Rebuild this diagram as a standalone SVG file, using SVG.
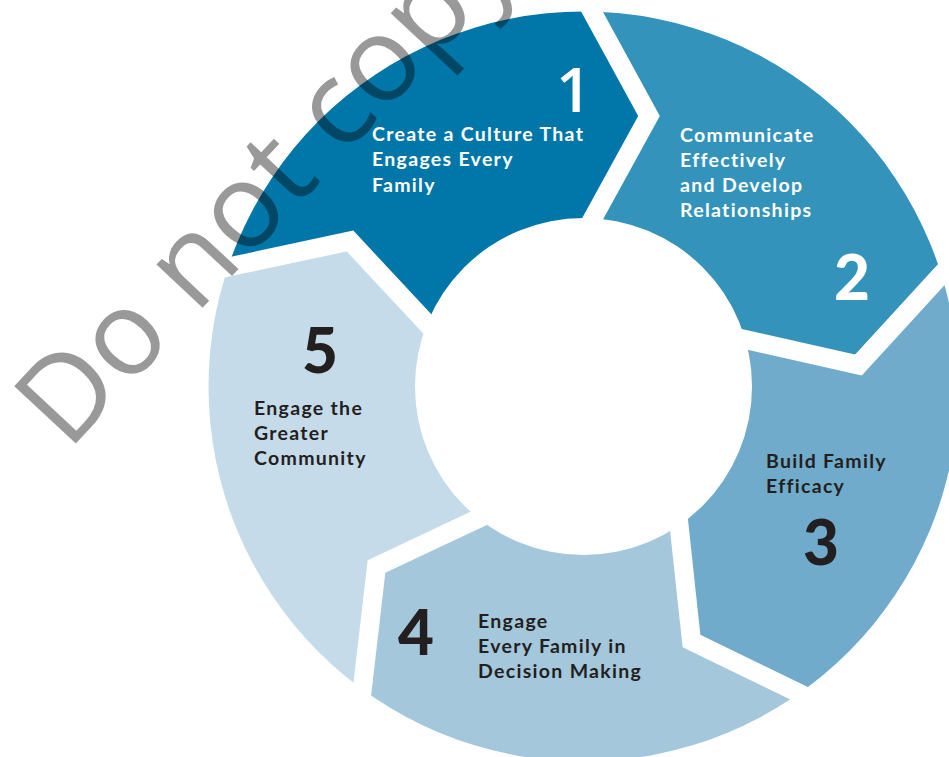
<svg xmlns="http://www.w3.org/2000/svg" width="949" height="757" viewBox="0 0 949 757">
  <style>
    .label { font-family: Lato, "Liberation Sans", sans-serif; font-weight: 700; font-size: 19.5px; letter-spacing: 1.3px; }
    .num { font-family: Lato, "Liberation Sans", sans-serif; font-weight: 900; font-size: 62px; }
    .one { font-family: "Open Sans", "Liberation Sans", sans-serif; font-weight: 600; font-size: 62px; }
    .light { fill: #ffffff; }
    .dark { fill: #231f20; }
    .sep { fill: none; stroke: #ffffff; stroke-width: 19; stroke-linejoin: miter; }
    .mark { font-family: "Open Sans", "Liberation Sans", sans-serif; font-weight: 400; font-size: 118px; fill: #000000; fill-opacity: 0.4; }
  </style>
  <defs>
    <!-- annulus: outer r=375, inner r=168.5, centred at (583.5, 386.5) -->
    <clipPath id="annulus">
      <path clip-rule="evenodd" d="M208.5,386.5 a375,375 0 1,0 750,0 a375,375 0 1,0 -750,0 Z M415,386.5 a168.5,168.5 0 1,0 337,0 a168.5,168.5 0 1,0 -337,0 Z"/>
    </clipPath>
  </defs>
  <rect width="949" height="757" fill="#ffffff"/>

  <!-- ring sectors, bounded by chevron lines -->
  <g id="ring" clip-path="url(#annulus)">
    <path id="sector-1" fill="#0077a8" d="M583.5,386.5 L447,345 L350,241 L189.4,275.4 L-80,163.2 L182,-187 L600.6,-313.3 L573.3,-22.6 L649,116 L578.6,244.3 Z"/>
    <path id="sector-2" fill="#3393bb" d="M583.5,386.5 L578.6,244.3 L649,116 L573.3,-22.6 L600.6,-313.3 L1005.7,-171.8 L1252.2,179.5 L967,246.5 L858.5,365 L714.2,332.4 Z"/>
    <path id="sector-3" fill="#71abcb" d="M583.5,386.5 L714.2,332.4 L858.5,365 L967,246.5 L1252.2,179.5 L1245.8,613.2 L985,959.9 L833.5,710 L691.5,641 L675.8,495.2 Z"/>
    <path id="sector-4" fill="#a4c7dc" d="M583.5,386.5 L675.8,495.2 L691.5,641 L833.5,710 L985,959.9 L575.6,1086.4 L169.1,950.6 L357.9,727.2 L376.5,566.5 L505.6,505.7 Z"/>
    <path id="sector-5" fill="#c6dbea" d="M583.5,386.5 L505.6,505.7 L376.5,566.5 L357.9,727.2 L169.1,950.6 L-83.9,597.5 L-80,163.2 L189.4,275.4 L350,241 L447,345 Z"/>
  </g>

  <!-- white chevron gaps between sectors -->
  <g id="gaps">
    <polyline class="sep" points="573.3,-22.6 649,116 578.6,244.3"/>
    <polyline class="sep" points="967,246.5 858.5,365 714.2,332.4"/>
    <polyline class="sep" points="833.5,710 691.5,641 675.8,495.2"/>
    <polyline class="sep" points="357.9,727.2 376.5,566.5 505.6,505.7"/>
    <polyline class="sep" points="189.4,275.4 350,241 447,345"/>
  </g>

  <g id="step-1">
    <text class="one light" x="556" y="112">1</text>
    <text class="label light" x="372" y="141">Create a Culture That</text>
    <text class="label light" x="372" y="166">Engages Every</text>
    <text class="label light" x="372" y="191.5">Family</text>
  </g>

  <g id="step-2">
    <text class="label light" x="680" y="141.5">Communicate</text>
    <text class="label light" x="680" y="166.8">Effectively</text>
    <text class="label light" x="680" y="192.2">and Develop</text>
    <text class="label light" x="680" y="217.3">Relationships</text>
    <text class="num light" x="834" y="300">2</text>
  </g>

  <g id="step-3">
    <text class="label dark" x="766" y="468.3">Build Family</text>
    <text class="label dark" x="766" y="493.3">Efficacy</text>
    <text class="num dark" x="803" y="565">3</text>
  </g>

  <g id="step-4">
    <text class="num dark" x="398" y="655">4</text>
    <text class="label dark" x="478" y="628.3">Engage</text>
    <text class="label dark" x="478" y="653.3">Every Family in</text>
    <text class="label dark" x="478" y="678.3">Decision Making</text>
  </g>

  <g id="step-5">
    <text class="num dark" x="302" y="373">5</text>
    <text class="label dark" x="254" y="415">Engage the</text>
    <text class="label dark" x="254" y="440">Greater</text>
    <text class="label dark" x="254" y="465">Community</text>
  </g>

  <!-- diagonal watermark -->
  <text class="mark" x="68" y="452" transform="rotate(-47 68 452)">Do not copy</text>
</svg>
